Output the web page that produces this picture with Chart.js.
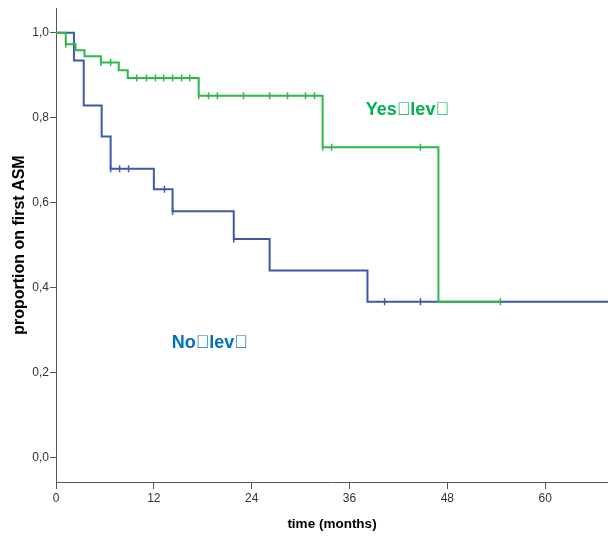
<!DOCTYPE html>
<html lang="en">
<head>
<meta charset="UTF-8">
<title>Proportion on first ASM</title>
<script src="https://cdn.jsdelivr.net/npm/chart.js@4.4.0/dist/chart.umd.min.js"></script>
<style>
  html, body { margin: 0; padding: 0; background: #fff; }
  .chart-container { position: relative; width: 608px; height: 536px; }
</style>
</head>
<body>
<div class="chart-container"><canvas id="chart"></canvas></div>
<script>
// x axis ticks (months) and y axis ticks (proportion)
const timeTicks = [0, 12, 24, 36, 48, 60];
const propTicks = [0, 0.2, 0.4, 0.6, 0.8, 1.0];

// "Yes lev" group: event times and the proportion from that time on
const yesTimes = [0, 1.2, 2.4, 3.5, 5.5, 7.7, 8.8, 17.5, 32.7, 46.9, 54.5];
const yesProp  = [1.0, 0.973, 0.959, 0.945, 0.930, 0.912, 0.894, 0.852, 0.731, 0.367, 0.367];
const yesCensored = [1.2, 5.5, 6.7, 9.9, 11.1, 12.2, 13.2, 14.3, 15.4, 16.4, 17.5, 18.7, 19.8,
                     23.0, 26.2, 28.4, 30.6, 31.7, 32.7, 33.8, 44.7, 54.5];

// "No lev" group
const noTimes = [0, 2.2, 3.4, 5.6, 6.7, 12.0, 14.3, 21.8, 26.2, 38.2, 67.7];
const noProp  = [1.0, 0.935, 0.829, 0.756, 0.68, 0.632, 0.58, 0.515, 0.441, 0.367, 0.367];
const noCensored = [6.7, 7.8, 8.9, 13.3, 14.3, 21.8, 40.3, 44.7];

const yesColor = "#2eb848";
const noColor = "#3e58ac";
const notdef = "\uE000"; // glyph missing in the original labels

// value of a step curve at time t
function propAt(times, props, t) {
  let v = props[0];
  for (let i = 0; i < times.length; i++) {
    if (t >= times[i]) v = props[i];
  }
  return v;
}

function toPoints(xs, ys) {
  return xs.map((x, i) => ({ x: x, y: ys[i] }));
}

function censorPoints(list, times, props) {
  return list.map((t) => ({ x: t, y: propAt(times, props, t) }));
}

// group labels inside the plot
const groupLabels = {
  id: "groupLabels",
  afterDatasetsDraw(chart) {
    const { ctx, scales } = chart;
    ctx.save();
    ctx.font = "bold 18px 'Liberation Sans', Arial, sans-serif";
    ctx.textBaseline = "middle";
    ctx.textAlign = "left";
    ctx.fillStyle = "#00b050";
    ctx.fillText("Yes" + notdef + "lev" + notdef, scales.x.getPixelForValue(38.0), scales.y.getPixelForValue(0.818));
    ctx.fillStyle = "#0070c0";
    ctx.fillText("No" + notdef + "lev" + notdef, scales.x.getPixelForValue(14.2), scales.y.getPixelForValue(0.269));
    ctx.restore();
  },
};

const tickFont = { family: "'Liberation Sans Narrow', 'Liberation Sans', Arial, sans-serif", size: 12 };

new Chart(document.getElementById("chart"), {
  type: "line",
  data: {
    datasets: [
      {
        label: "Yes lev",
        data: toPoints(yesTimes, yesProp),
        borderColor: yesColor,
        borderWidth: 2,
        stepped: "before",
        pointRadius: 0,
        fill: false,
      },
      {
        label: "Yes lev censored",
        data: censorPoints(yesCensored, yesTimes, yesProp),
        showLine: false,
        pointStyle: "line",
        rotation: 90,
        pointRadius: 3.5,
        borderColor: yesColor,
        borderWidth: 1.5,
      },
      {
        label: "No lev",
        data: toPoints(noTimes, noProp),
        borderColor: noColor,
        borderWidth: 2,
        stepped: "before",
        pointRadius: 0,
        fill: false,
      },
      {
        label: "No lev censored",
        data: censorPoints(noCensored, noTimes, noProp),
        showLine: false,
        pointStyle: "line",
        rotation: 90,
        pointRadius: 3.5,
        borderColor: noColor,
        borderWidth: 1.5,
      },
    ],
  },
  options: {
    responsive: true,
    maintainAspectRatio: false,
    animation: false,
    layout: { autoPadding: false, padding: { top: 8, right: 0, left: 0, bottom: 0 } },
    plugins: {
      legend: { display: false },
      tooltip: { enabled: false },
    },
    scales: {
      x: {
        type: "linear",
        min: 0,
        max: 67.7,
        afterBuildTicks: (axis) => { axis.ticks = timeTicks.map((v) => ({ value: v })); },
        afterFit: (axis) => {
          axis.height = 54;
          axis.paddingLeft = 0;
          axis.paddingRight = 0;
        },
        ticks: { color: "#333", font: tickFont, padding: 2, maxRotation: 0 },
        grid: { drawOnChartArea: false, drawTicks: true, tickLength: 7, color: "#555" },
        border: { color: "#555", width: 1 },
        title: {
          display: true,
          text: "time (months)",
          color: "#000",
          font: { family: "'Liberation Sans', Arial, sans-serif", size: 13.5, weight: "bold" },
          padding: { top: 12 },
        },
      },
      y: {
        type: "linear",
        min: -0.057,
        max: 1.058,
        afterBuildTicks: (axis) => { axis.ticks = propTicks.map((v) => ({ value: v })); },
        afterFit: (axis) => { axis.width = 56; },
        ticks: {
          color: "#333",
          font: tickFont,
          padding: 1,
          callback: (v) => v.toFixed(1).replace(".", ","),
        },
        grid: { drawOnChartArea: false, drawTicks: true, tickLength: 6, color: "#555" },
        border: { color: "#555", width: 1 },
        title: {
          display: true,
          text: "proportion on first ASM",
          color: "#000",
          font: { family: "'Liberation Sans', Arial, sans-serif", size: 16, weight: "bold" },
          padding: { top: 10, bottom: 0 },
        },
      },
    },
  },
  plugins: [groupLabels],
});
</script>
</body>
</html>
